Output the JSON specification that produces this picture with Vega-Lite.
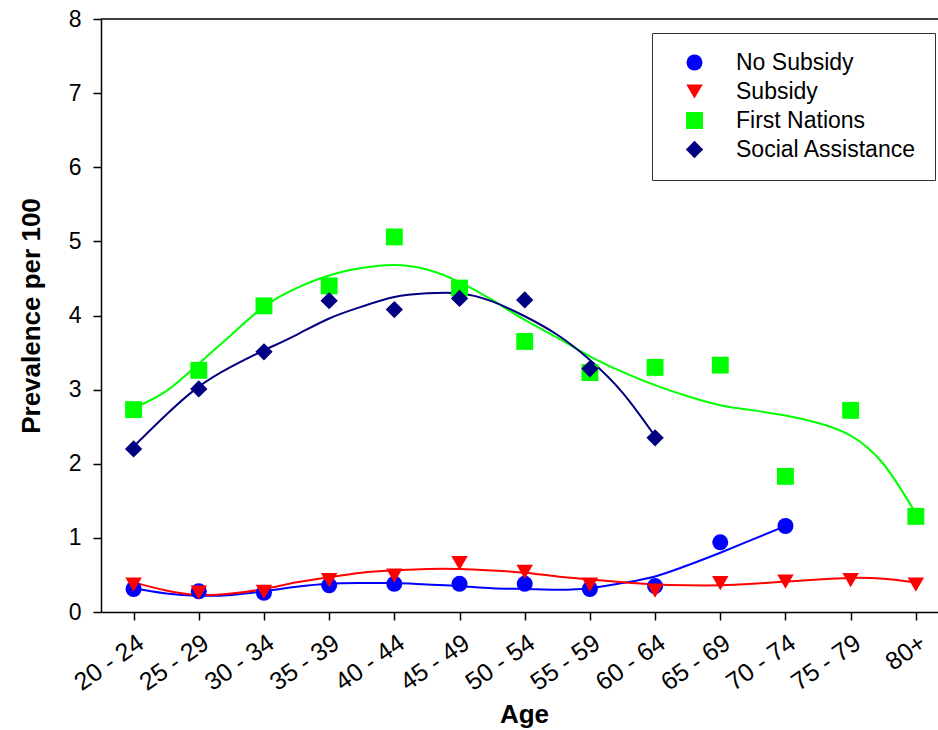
{
  "$schema": "https://vega.github.io/schema/vega-lite/v6.json",
  "width": 837,
  "height": 593,
  "autosize": {"type": "none"},
  "padding": {"left": 101, "top": 19, "right": 0, "bottom": 118},
  "background": "white",
  "config": {
    "font": "Liberation Sans",
    "view": {"stroke": null},
    "axis": {
      "grid": false,
      "domainColor": "black",
      "domainWidth": 1.5,
      "tickColor": "black",
      "tickWidth": 1.5,
      "tickSize": 8,
      "labelColor": "black",
      "labelFontSize": 23,
      "labelOverlap": false,
      "titleColor": "black",
      "titleFontSize": 26,
      "titleFontWeight": "bold"
    },
    "legend": {
      "orient": "none",
      "legendX": 551,
      "legendY": 14,
      "padding": 18,
      "strokeColor": "#333333",
      "fillColor": "white",
      "labelFontSize": 23,
      "labelColor": "black",
      "labelLimit": 0,
      "rowPadding": 5,
      "symbolOffset": 13,
      "labelOffset": 30,
      "symbolStrokeWidth": 0
    }
  },
  "datasets": {
    "pts": [
      {"group": "No Subsidy", "age": 22, "value": 0.31},
      {"group": "No Subsidy", "age": 27, "value": 0.28},
      {"group": "No Subsidy", "age": 32, "value": 0.26},
      {"group": "No Subsidy", "age": 37, "value": 0.36},
      {"group": "No Subsidy", "age": 42, "value": 0.38},
      {"group": "No Subsidy", "age": 47, "value": 0.38},
      {"group": "No Subsidy", "age": 52, "value": 0.38},
      {"group": "No Subsidy", "age": 57, "value": 0.31},
      {"group": "No Subsidy", "age": 62, "value": 0.35},
      {"group": "No Subsidy", "age": 67, "value": 0.94},
      {"group": "No Subsidy", "age": 72, "value": 1.16},
      {"group": "Subsidy", "age": 22, "value": 0.37},
      {"group": "Subsidy", "age": 27, "value": 0.26},
      {"group": "Subsidy", "age": 32, "value": 0.27},
      {"group": "Subsidy", "age": 37, "value": 0.43},
      {"group": "Subsidy", "age": 42, "value": 0.49},
      {"group": "Subsidy", "age": 47, "value": 0.66},
      {"group": "Subsidy", "age": 52, "value": 0.54},
      {"group": "Subsidy", "age": 57, "value": 0.37},
      {"group": "Subsidy", "age": 62, "value": 0.29},
      {"group": "Subsidy", "age": 67, "value": 0.39},
      {"group": "Subsidy", "age": 72, "value": 0.41},
      {"group": "Subsidy", "age": 77, "value": 0.43},
      {"group": "Subsidy", "age": 82, "value": 0.37},
      {"group": "First Nations", "age": 22, "value": 2.73},
      {"group": "First Nations", "age": 27, "value": 3.26},
      {"group": "First Nations", "age": 32, "value": 4.13},
      {"group": "First Nations", "age": 37, "value": 4.4},
      {"group": "First Nations", "age": 42, "value": 5.06},
      {"group": "First Nations", "age": 47, "value": 4.37},
      {"group": "First Nations", "age": 52, "value": 3.65},
      {"group": "First Nations", "age": 57, "value": 3.23},
      {"group": "First Nations", "age": 62, "value": 3.3},
      {"group": "First Nations", "age": 67, "value": 3.33},
      {"group": "First Nations", "age": 72, "value": 1.83},
      {"group": "First Nations", "age": 77, "value": 2.72},
      {"group": "First Nations", "age": 82, "value": 1.29},
      {"group": "Social Assistance", "age": 22, "value": 2.2},
      {"group": "Social Assistance", "age": 27, "value": 3.01},
      {"group": "Social Assistance", "age": 32, "value": 3.51},
      {"group": "Social Assistance", "age": 37, "value": 4.2},
      {"group": "Social Assistance", "age": 42, "value": 4.08},
      {"group": "Social Assistance", "age": 47, "value": 4.23},
      {"group": "Social Assistance", "age": 52, "value": 4.21},
      {"group": "Social Assistance", "age": 57, "value": 3.28},
      {"group": "Social Assistance", "age": 62, "value": 2.35}
    ],
    "fit": [
      {"series": "No Subsidy", "age": 22, "value": 0.32},
      {"series": "No Subsidy", "age": 24.5, "value": 0.25},
      {"series": "No Subsidy", "age": 27, "value": 0.22},
      {"series": "No Subsidy", "age": 29.5, "value": 0.23},
      {"series": "No Subsidy", "age": 32, "value": 0.28},
      {"series": "No Subsidy", "age": 34.5, "value": 0.34},
      {"series": "No Subsidy", "age": 37, "value": 0.38},
      {"series": "No Subsidy", "age": 39.5, "value": 0.39},
      {"series": "No Subsidy", "age": 42, "value": 0.39},
      {"series": "No Subsidy", "age": 44.5, "value": 0.37},
      {"series": "No Subsidy", "age": 47, "value": 0.35},
      {"series": "No Subsidy", "age": 49.5, "value": 0.32},
      {"series": "No Subsidy", "age": 52, "value": 0.31},
      {"series": "No Subsidy", "age": 54.5, "value": 0.3},
      {"series": "No Subsidy", "age": 57, "value": 0.32},
      {"series": "No Subsidy", "age": 59.5, "value": 0.39},
      {"series": "No Subsidy", "age": 62, "value": 0.48},
      {"series": "No Subsidy", "age": 64.5, "value": 0.63},
      {"series": "No Subsidy", "age": 67, "value": 0.8},
      {"series": "No Subsidy", "age": 69.5, "value": 0.98},
      {"series": "No Subsidy", "age": 72, "value": 1.16},
      {"series": "Subsidy", "age": 22, "value": 0.4},
      {"series": "Subsidy", "age": 24.5, "value": 0.29},
      {"series": "Subsidy", "age": 27, "value": 0.23},
      {"series": "Subsidy", "age": 29.5, "value": 0.25},
      {"series": "Subsidy", "age": 32, "value": 0.31},
      {"series": "Subsidy", "age": 34.5, "value": 0.4},
      {"series": "Subsidy", "age": 37, "value": 0.47},
      {"series": "Subsidy", "age": 39.5, "value": 0.53},
      {"series": "Subsidy", "age": 42, "value": 0.56},
      {"series": "Subsidy", "age": 44.5, "value": 0.58},
      {"series": "Subsidy", "age": 47, "value": 0.58},
      {"series": "Subsidy", "age": 49.5, "value": 0.56},
      {"series": "Subsidy", "age": 52, "value": 0.53},
      {"series": "Subsidy", "age": 54.5, "value": 0.48},
      {"series": "Subsidy", "age": 57, "value": 0.44},
      {"series": "Subsidy", "age": 59.5, "value": 0.4},
      {"series": "Subsidy", "age": 62, "value": 0.37},
      {"series": "Subsidy", "age": 64.5, "value": 0.36},
      {"series": "Subsidy", "age": 67, "value": 0.36},
      {"series": "Subsidy", "age": 69.5, "value": 0.38},
      {"series": "Subsidy", "age": 72, "value": 0.41},
      {"series": "Subsidy", "age": 74.5, "value": 0.44},
      {"series": "Subsidy", "age": 77, "value": 0.46},
      {"series": "Subsidy", "age": 79.5, "value": 0.45},
      {"series": "Subsidy", "age": 82, "value": 0.4},
      {"series": "First Nations", "age": 22, "value": 2.75},
      {"series": "First Nations", "age": 24.5, "value": 2.98},
      {"series": "First Nations", "age": 27, "value": 3.35},
      {"series": "First Nations", "age": 29.5, "value": 3.74},
      {"series": "First Nations", "age": 32, "value": 4.12},
      {"series": "First Nations", "age": 34.5, "value": 4.37},
      {"series": "First Nations", "age": 37, "value": 4.54},
      {"series": "First Nations", "age": 39.5, "value": 4.64},
      {"series": "First Nations", "age": 42, "value": 4.68},
      {"series": "First Nations", "age": 44.5, "value": 4.62},
      {"series": "First Nations", "age": 47, "value": 4.45},
      {"series": "First Nations", "age": 49.5, "value": 4.21},
      {"series": "First Nations", "age": 52, "value": 3.94},
      {"series": "First Nations", "age": 54.5, "value": 3.7},
      {"series": "First Nations", "age": 57, "value": 3.45},
      {"series": "First Nations", "age": 59.5, "value": 3.24},
      {"series": "First Nations", "age": 62, "value": 3.06},
      {"series": "First Nations", "age": 64.5, "value": 2.91},
      {"series": "First Nations", "age": 67, "value": 2.79},
      {"series": "First Nations", "age": 69.5, "value": 2.72},
      {"series": "First Nations", "age": 72, "value": 2.65},
      {"series": "First Nations", "age": 74.5, "value": 2.55},
      {"series": "First Nations", "age": 77, "value": 2.38},
      {"series": "First Nations", "age": 79.5, "value": 2.0},
      {"series": "First Nations", "age": 82, "value": 1.33},
      {"series": "Social Assistance", "age": 22, "value": 2.23},
      {"series": "Social Assistance", "age": 24.5, "value": 2.66},
      {"series": "Social Assistance", "age": 27, "value": 3.04},
      {"series": "Social Assistance", "age": 29.5, "value": 3.31},
      {"series": "Social Assistance", "age": 32, "value": 3.53},
      {"series": "Social Assistance", "age": 34.5, "value": 3.74},
      {"series": "Social Assistance", "age": 37, "value": 3.96},
      {"series": "Social Assistance", "age": 39.5, "value": 4.12},
      {"series": "Social Assistance", "age": 42, "value": 4.25},
      {"series": "Social Assistance", "age": 44.5, "value": 4.3},
      {"series": "Social Assistance", "age": 47, "value": 4.3},
      {"series": "Social Assistance", "age": 49.5, "value": 4.19},
      {"series": "Social Assistance", "age": 52, "value": 3.99},
      {"series": "Social Assistance", "age": 54.5, "value": 3.74},
      {"series": "Social Assistance", "age": 57, "value": 3.4},
      {"series": "Social Assistance", "age": 59.5, "value": 2.96},
      {"series": "Social Assistance", "age": 62, "value": 2.37}
    ],
    "frame": [{"value": 8}]
  },
  "layer": [
    {
      "data": {"name": "frame"},
      "mark": {"type": "rule", "color": "black", "strokeWidth": 1.5},
      "encoding": {"y": {"field": "value", "type": "quantitative", "scale": {"domain": [0, 8], "nice": false}}}
    },
    {
      "data": {"name": "fit"},
      "mark": {"type": "line", "interpolate": "natural", "strokeWidth": 2},
      "encoding": {
        "x": {"field": "age", "type": "quantitative"},
        "y": {"field": "value", "type": "quantitative"},
        "order": {"field": "age", "type": "quantitative"},
        "stroke": {
          "field": "series",
          "type": "nominal",
          "scale": {
            "range": ["#00ff00", "#0000ff", "#000080", "#ff0000"]
          },
          "legend": null
        }
      }
    },
    {
      "data": {"name": "pts"},
      "mark": {"type": "point", "filled": true, "opacity": 1, "strokeWidth": 0},
      "encoding": {
        "x": {
          "field": "age",
          "type": "quantitative",
          "scale": {"domain": [19.5, 83.7], "nice": false, "zero": false},
          "axis": {
            "title": "Age",
            "values": [22, 27, 32, 37, 42, 47, 52, 57, 62, 67, 72, 77, 82],
            "labelExpr": "datum.value >= 80 ? '80+' : (datum.value - 2) + ' - ' + (datum.value + 2)",
            "labelAngle": -35,
            "labelAlign": "right",
            "labelBaseline": "top",
            "labelFontSize": 25,
            "labelPadding": 10,
            "titlePadding": 6,
            "titleX": 423
          }
        },
        "y": {
          "field": "value",
          "type": "quantitative",
          "axis": {
            "title": "Prevalence per 100",
            "values": [0, 1, 2, 3, 4, 5, 6, 7, 8],
            "format": "d",
            "labelPadding": 12,
            "titlePadding": 24
          }
        },
        "color": {
          "field": "group",
          "type": "nominal",
          "title": null,
          "scale": {
            "domain": ["No Subsidy", "Subsidy", "First Nations", "Social Assistance"],
            "range": ["#0000ff", "#ff0000", "#00ff00", "#000080"]
          }
        },
        "shape": {
          "field": "group",
          "type": "nominal",
          "title": null,
          "scale": {
            "domain": ["No Subsidy", "Subsidy", "First Nations", "Social Assistance"],
            "range": ["circle", "triangle-down", "square", "diamond"]
          }
        },
        "size": {
          "field": "group",
          "type": "nominal",
          "title": null,
          "scale": {
            "domain": ["No Subsidy", "Subsidy", "First Nations", "Social Assistance"],
            "range": [256, 300, 196, 520]
          }
        }
      }
    }
  ]
}
